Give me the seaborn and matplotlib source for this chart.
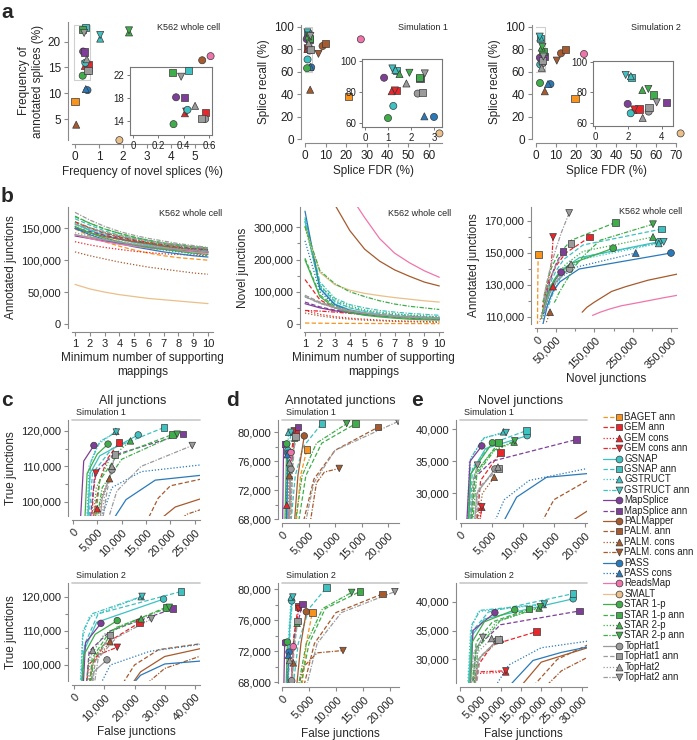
import numpy as np
import pandas as pd
import seaborn as sns
import matplotlib.pyplot as plt
from matplotlib.ticker import FuncFormatter, FixedLocator
from matplotlib.patches import Rectangle

sns.set_style('ticks')
plt.rcParams['font.family'] = ['Liberation Sans', 'DejaVu Sans']
plt.rcParams['font.size'] = 8

W, H = 697, 740

# ---- methods / styles ----
methods = ['BAGET ann', 'GEM ann', 'GEM cons', 'GEM cons ann', 'GSNAP', 'GSNAP ann',
           'GSTRUCT', 'GSTRUCT ann', 'MapSplice', 'MapSplice ann', 'PALMapper', 'PALM. ann',
           'PALM. cons', 'PALM. cons ann', 'PASS', 'PASS cons', 'ReadsMap', 'SMALT',
           'STAR 1-p', 'STAR 1-p ann', 'STAR 2-p', 'STAR 2-p ann', 'TopHat1', 'TopHat1 ann',
           'TopHat2', 'TopHat2 ann']
method_colors = ['#F7941D', '#E8262B', '#E8262B', '#E8262B', '#3EC1C1', '#3EC1C1',
                 '#3EC1C1', '#3EC1C1', '#7F3F98', '#7F3F98', '#A65A2E', '#A65A2E',
                 '#A65A2E', '#A65A2E', '#2A7AB9', '#2A7AB9', '#F074AC', '#EABF8A',
                 '#3FAE4A', '#3FAE4A', '#3FAE4A', '#3FAE4A', '#9B9B9B', '#9B9B9B',
                 '#9B9B9B', '#9B9B9B']
method_markers = ['s', 's', '^', 'v', 'o', 's', '^', 'v', 'o', 's', 'o', 's', '^', 'v',
                  'o', '^', 'o', 'o', 'o', 's', '^', 'v', 'o', 's', '^', 'v']
method_lines = ['--', '--', ':', '-.', '-', '--', ':', '-.', '-', '--', '-', '--', ':', '-.',
                '-', ':', '-', '-', '-', '--', ':', '-.', '-', '--', ':', '-.']

# ---- panel a: (x, y) per method ----
a1_pts = {'BAGET ann': (0.0, 8.4), 'GEM ann': (0.57, 15.5), 'GEM cons': (0.41, 15.3),
          'GEM cons ann': (0.42, 15.6), 'GSNAP': (0.43, 15.9), 'GSNAP ann': (0.44, 22.75),
          'GSTRUCT': (1.05, 20.6), 'GSTRUCT ann': (1.05, 21.3), 'MapSplice': (0.34, 18.1),
          'MapSplice ann': (0.41, 18.0), 'PALMapper': (5.3, 16.4), 'PALM. cons': (0.05, 3.9),
          'PASS': (0.52, 10.6), 'PASS cons': (0.45, 10.8), 'ReadsMap': (5.65, 17.2),
          'SMALT': (1.85, 0.9), 'STAR 1-p': (0.32, 13.4), 'STAR 1-p ann': (0.31, 22.4),
          'STAR 2-p': (2.25, 21.8), 'STAR 2-p ann': (2.25, 22.2), 'TopHat1': (0.57, 14.3),
          'TopHat1 ann': (0.54, 14.4), 'TopHat2': (0.49, 16.6), 'TopHat2 ann': (0.38, 21.7)}

a2_pts = {'BAGET ann': (21, 38), 'GEM ann': (1.38, 81.2), 'GEM cons': (1.16, 80.5),
          'GEM cons ann': (1.3, 81.0), 'GSNAP': (1.23, 71), 'GSNAP ann': (1.38, 93.7),
          'GSTRUCT': (1.32, 94.3), 'GSTRUCT ann': (1.19, 95.2), 'MapSplice': (0.83, 89.2),
          'MapSplice ann': (2.39, 88.7), 'PALMapper': (8.5, 83), 'PALM. ann': (10, 85),
          'PALM. cons': (2.5, 44), 'PALM. cons ann': (6.5, 76), 'PASS': (3.0, 63.9),
          'PASS cons': (2.58, 64.3), 'ReadsMap': (27, 89), 'SMALT': (65, 5),
          'STAR 1-p': (1.0, 63.2), 'STAR 1-p ann': (2.36, 89.4), 'STAR 2-p': (1.5, 91.6),
          'STAR 2-p ann': (1.93, 92.4), 'TopHat1': (2.29, 79), 'TopHat1 ann': (2.5, 79.7),
          'TopHat2': (1.8, 85.5), 'TopHat2 ann': (2.6, 92)}

a3_pts = {'BAGET ann': (19.5, 36.2), 'GEM ann': (2.64, 69.3), 'GEM cons': (2.3, 68.6),
          'GEM cons ann': (2.36, 69.0), 'GSNAP': (2.14, 66.5), 'GSNAP ann': (2.2, 90.0),
          'GSTRUCT': (2.15, 90.6), 'GSTRUCT ann': (1.84, 91.4), 'MapSplice': (1.96, 72.6),
          'MapSplice ann': (4.3, 73.6), 'PALMapper': (12.5, 76.5), 'PALM. ann': (14.7, 80),
          'PALM. cons': (4.4, 42.6), 'PALM. cons ann': (10.4, 70), 'PASS': (7.2, 49),
          'PASS cons': (6.0, 49), 'ReadsMap': (24, 75.9), 'SMALT': (72.3, 5),
          'STAR 1-p': (2.0, 50), 'STAR 1-p ann': (3.5, 78.4), 'STAR 2-p': (2.84, 81.6),
          'STAR 2-p ann': (3.2, 82.3), 'TopHat1': (3.22, 67.6), 'TopHat1 ann': (3.24, 70.2),
          'TopHat2': (2.86, 63.5), 'TopHat2 ann': (3.7, 73.6)}

# ---- panel b: junction counts (thousands) for min support 1..10 ----
support = [1, 2, 3, 4, 5, 6, 7, 8, 9, 10]
b_annotated = {
    'BAGET ann': [149, 138, 129, 122, 116, 111, 107, 104, 102, 100],
    'GEM ann': [160, 150, 142, 136, 131, 127, 124, 121, 118, 116],
    'GEM cons': [129, 124, 120, 117, 114, 112, 110, 109, 108, 107],
    'GEM cons ann': [160, 151, 143, 137, 132, 128, 125, 122, 119, 117],
    'GSNAP': [157, 147, 139, 133, 128, 124, 121, 118, 116, 114],
    'GSNAP ann': [165, 155, 146, 139, 134, 130, 126, 123, 121, 119],
    'GSTRUCT': [156, 146, 138, 132, 127, 123, 120, 117, 115, 113],
    'GSTRUCT ann': [157, 148, 140, 134, 129, 125, 122, 119, 117, 115],
    'MapSplice': [138, 134, 130, 127, 124, 121, 118, 116, 114, 112],
    'MapSplice ann': [151, 145, 139, 134, 130, 126, 123, 120, 118, 116],
    'PALMapper': [150, 143, 137, 133, 129, 126, 122, 119, 116, 113],
    'PALM. cons': [113, 107, 102, 97, 93, 89, 86, 83, 80, 78],
    'PASS': [150, 140, 132, 126, 121, 117, 113, 110, 107, 105],
    'PASS cons': [150, 141, 134, 128, 123, 119, 116, 113, 110, 108],
    'ReadsMap': [140, 134, 129, 125, 122, 119, 117, 115, 113, 111],
    'SMALT': [62, 55, 50, 46, 43, 40, 38, 36, 34, 32],
    'STAR 1-p': [153, 143, 135, 129, 124, 120, 117, 114, 111, 109],
    'STAR 1-p ann': [169, 158, 149, 142, 136, 131, 127, 124, 121, 119],
    'STAR 2-p': [160, 151, 143, 137, 132, 128, 124, 121, 119, 117],
    'STAR 2-p ann': [168, 158, 149, 142, 136, 131, 127, 124, 121, 119],
    'TopHat1': [140, 136, 132, 128, 125, 122, 119, 117, 115, 113],
    'TopHat1 ann': [156, 150, 144, 139, 134, 130, 127, 124, 121, 119],
    'TopHat2': [143, 138, 134, 130, 126, 123, 120, 118, 116, 114],
    'TopHat2 ann': [175, 163, 153, 145, 139, 134, 130, 126, 123, 120],
}
b_novel = {
    'BAGET ann': [3, 2.5, 2, 1.8, 1.6, 1.5, 1.4, 1.3, 1.2, 1.1],
    'GEM ann': [138, 75, 50, 38, 30, 25, 21, 18, 16, 14],
    'GEM cons': [42, 30, 23, 18, 15, 12, 10, 9, 8, 7],
    'GEM cons ann': [42, 40, 37, 33, 29, 26, 23, 21, 19, 17],
    'GSNAP': [318, 110, 62, 44, 35, 29, 25, 22, 20, 18],
    'GSNAP ann': [326, 120, 70, 50, 40, 33, 28, 25, 22, 20],
    'GSTRUCT': [318, 115, 68, 50, 40, 34, 30, 27, 24, 22],
    'GSTRUCT ann': [331, 130, 80, 60, 50, 42, 37, 33, 30, 27],
    'MapSplice': [63, 50, 41, 35, 30, 26, 23, 21, 19, 17],
    'MapSplice ann': [68, 53, 43, 36, 31, 27, 24, 22, 20, 18],
    'PALMapper': [900, 530, 370, 290, 232, 195, 168, 148, 130, 118],
    'PALM. cons': [34, 25, 19, 15, 12, 10, 8, 7, 6, 5],
    'PASS': [350, 110, 60, 42, 33, 27, 23, 20, 17, 15],
    'PASS cons': [258, 100, 58, 40, 31, 26, 22, 19, 17, 15],
    'ReadsMap': [1200, 700, 500, 400, 330, 265, 220, 190, 165, 145],
    'SMALT': [300, 160, 122, 105, 95, 88, 82, 77, 72, 68],
    'STAR 1-p': [199, 85, 50, 35, 27, 22, 18, 15, 13, 12],
    'STAR 1-p ann': [204, 90, 55, 40, 31, 26, 22, 19, 17, 15],
    'STAR 2-p': [303, 120, 75, 55, 44, 37, 32, 28, 25, 22],
    'STAR 2-p ann': [303, 165, 125, 100, 85, 72, 62, 55, 50, 45],
    'TopHat1': [85, 65, 50, 40, 33, 28, 24, 21, 19, 17],
    'TopHat1 ann': [89, 68, 53, 43, 35, 30, 26, 23, 21, 19],
    'TopHat2': [89, 67, 52, 42, 34, 29, 25, 22, 20, 18],
    'TopHat2 ann': [84, 64, 50, 40, 33, 28, 24, 21, 19, 17],
}

# ---- panels c-e: (false, true) junction curves, thousands; last point = most permissive ----
c_sim1 = {
    'GEM ann': ([4.0, 5.5, 7, 9.4], [94, 106, 112, 116.7]),
    'GEM cons': ([4.2, 5.0], [94, 98.0]),
    'GEM cons ann': ([3.8, 4.2, 4.7], [94, 103, 108.1]),
    'GSNAP': ([3.0, 3.5, 5.5, 13.4], [94, 108, 113, 118.9]),
    'GSNAP ann': ([3.2, 4, 8, 18.7], [94, 108, 115, 121]),
    'GSTRUCT': ([2.8, 3.3, 5, 8.8], [94, 110, 116, 119.9]),
    'GSTRUCT ann': ([3.0, 3.6, 5.5, 8.9], [94, 111, 117, 119.7]),
    'MapSplice': ([1.5, 2.2, 4.3], [94, 111.5, 115.9]),
    'MapSplice ann': ([3.5, 4.5, 8, 22.6], [94, 108, 113, 119.1]),
    'PALMapper': ([17, 21, 30], [94, 98.5, 102.5]),
    'PALM. ann': ([15, 17.5, 20, 30], [94, 101, 104.5, 107.5]),
    'PALM. cons': ([5, 6, 7.5], [94, 102, 106.5]),
    'PALM. cons ann': ([21, 23.5, 30], [94, 96.5, 99.5]),
    'PASS': ([7.8, 10.9, 16.9, 32], [94, 100.6, 106.1, 108.3]),
    'PASS cons': ([5.5, 8, 14, 32], [94, 104, 108.5, 111.3]),
    'STAR 1-p': ([2.4, 2.9, 5, 7.2], [94, 108, 113.5, 116.3]),
    'STAR 1-p ann': ([4.5, 5.5, 9, 20.4], [94, 106, 113, 119]),
    'STAR 2-p': ([4.0, 4.8, 7.5, 11.8], [94, 104, 112, 117.2]),
    'STAR 2-p ann': ([4.8, 6, 10, 21.4], [94, 104, 112, 119.1]),
    'TopHat1': ([5.5, 6, 8], [94, 101, 109]),
    'TopHat1 ann': ([6, 7, 8.6], [94, 103, 113.4]),
    'TopHat2': ([5.8, 6.5, 8], [94, 102, 110]),
    'TopHat2 ann': ([7, 9, 14, 24.5], [94, 103, 110, 115.9]),
}
c_sim2 = {
    'GEM ann': ([5, 6, 10, 21.6], [93, 100, 106, 112.4]),
    'GEM cons ann': ([4, 4.8, 8, 14.3], [93, 100, 103, 105.2]),
    'GSNAP': ([2.5, 3.2, 7.5, 29.6], [93, 104, 112.5, 119.3]),
    'GSNAP ann': ([2.8, 3.5, 8, 35.3], [93, 106, 115, 121.5]),
    'GSTRUCT': ([2.0, 2.8, 5, 22.2], [93, 108, 114, 120]),
    'GSTRUCT ann': ([2.2, 3, 6, 22.5], [93, 110, 115, 120.1]),
    'MapSplice': ([3, 3.8, 8.9], [93, 106.5, 112.2]),
    'MapSplice ann': ([4, 5, 12, 32.8], [93, 104, 110, 116.5]),
    'PALMapper': ([18, 22, 30, 48], [93, 98, 102.5, 106]),
    'PALM. ann': ([15, 20, 28, 48], [93, 100, 104.5, 107]),
    'PALM. cons': ([4.5, 6, 11.9], [93, 100, 106.8]),
    'PALM. cons ann': ([22, 30, 48], [93, 99, 104.5]),
    'PASS': ([18, 22, 30, 48], [93, 97, 100.3, 101.6]),
    'PASS cons': ([8, 12, 25, 48], [93, 100, 104, 106.8]),
    'STAR 1-p': ([2.5, 3.3, 7, 14.3], [93, 103, 109, 113]),
    'STAR 1-p ann': ([5, 6, 12, 30.4], [93, 102, 110, 116.9]),
    'STAR 2-p': ([4, 5, 10, 22.2], [93, 102, 109, 113.5]),
    'STAR 2-p ann': ([5.5, 6.5, 14, 31.5], [93, 102, 111, 116.9]),
    'TopHat1': ([5.5, 6.5, 10.9], [93, 98, 101.5]),
    'TopHat1 ann': ([6, 7, 11.9], [93, 101, 108.8]),
    'TopHat2': ([4.5, 5.2, 6.2], [93, 101, 104.3]),
    'TopHat2 ann': ([6.5, 8, 14, 25.6], [93, 102, 108, 113.5]),
}
d_sim1 = {
    'BAGET ann': ([2.5, 3.5, 4.7], [66, 74, 77.6]),
    'GEM ann': ([1.3, 1.8, 2.5], [66, 76, 80.2]),
    'GEM cons': ([0.6, 0.9], [66, 69.9]),
    'GEM cons ann': ([1.2, 1.6, 2.3], [66, 76, 80.2]),
    'GSNAP': ([0.9, 1.1], [66, 77.5]),
    'GSNAP ann': ([1.5, 2.5, 4, 7.5], [66, 74, 78, 81.2]),
    'GSTRUCT': ([0.8, 1.0, 1.25], [66, 77, 80]),
    'GSTRUCT ann': ([0.9, 1.2, 1.7], [66, 77, 80]),
    'MapSplice': ([0.1, 0.3], [66, 78.3]),
    'MapSplice ann': ([1.2, 1.8, 3], [66, 76, 80.7]),
    'PALMapper': ([2.2, 3.0, 4.2], [66, 74, 79.5]),
    'PALM. ann': ([3.5, 6, 10, 18.1], [66, 73.5, 77.5, 80.7]),
    'PALM. cons': ([1.0, 1.2, 1.4], [66, 71, 74]),
    'PALM. cons ann': ([5, 6.5, 8, 10.8], [66, 73, 74.5, 75]),
    'PASS': ([0.8, 1.1], [66, 77.1]),
    'PASS cons': ([0.8, 1.0], [66, 76.9]),
    'ReadsMap': ([1.3, 1.7], [66, 77.2]),
    'STAR 1-p': ([0.5, 0.9], [66, 78.4]),
    'STAR 1-p ann': ([2.8, 4.5, 7.5, 13.9], [66, 74, 78.5, 81.2]),
    'STAR 2-p': ([1.5, 2.0, 2.4], [66, 76, 79.2]),
    'STAR 2-p ann': ([2.2, 3.8, 6.5, 12.2], [66, 74, 78.5, 81.2]),
    'TopHat1': ([1.2, 1.5, 1.7], [66, 72, 74.9]),
    'TopHat1 ann': ([1.6, 2.0, 2.5], [66, 75, 79.4]),
    'TopHat2': ([1.0, 1.2, 1.4], [66, 72, 75.8]),
    'TopHat2 ann': ([4, 6, 10, 21.9], [66, 73, 77.5, 81.5]),
}
d_sim2 = {
    'BAGET ann': ([3.5, 4.5, 5.6], [66, 73, 77]),
    'GEM ann': ([1.6, 2.2, 3.0], [66, 74, 77.8]),
    'GEM cons ann': ([1.5, 2.1, 3.1], [66, 73, 77.5]),
    'GSNAP': ([1.0, 1.4, 1.8], [66, 75, 78.5]),
    'GSNAP ann': ([1.8, 3, 5, 8.2], [66, 73, 77.5, 80.2]),
    'GSTRUCT': ([1.0, 1.3, 1.7], [66, 75, 79]),
    'GSTRUCT ann': ([1.1, 1.5, 2.0], [66, 75, 79]),
    'MapSplice': ([0.3, 0.5], [66, 73.1]),
    'MapSplice ann': ([1.5, 2.3, 3.8], [66, 74, 78.1]),
    'PALMapper': ([2.5, 3.5, 4.5], [66, 73, 77.1]),
    'PALM. ann': ([3.5, 6, 10, 18.6], [66, 73, 77, 79.4]),
    'PALM. cons': ([1.5, 1.8, 2.1], [66, 69, 70.5]),
    'PALM. cons ann': ([2.5, 4, 6.5, 11.3], [66, 70, 71.8, 72.1]),
    'PASS': ([0.9, 1.3], [66, 71.9]),
    'PASS cons': ([0.9, 1.2], [66, 71.5]),
    'ReadsMap': ([1.6, 2.1], [66, 72.6]),
    'STAR 1-p': ([0.7, 1.0], [66, 73.2]),
    'STAR 1-p ann': ([3.0, 5, 8, 14.4], [66, 73, 77.5, 79.7]),
    'STAR 2-p': ([1.7, 2.2, 2.8], [66, 73, 75.6]),
    'STAR 2-p ann': ([2.6, 4.5, 7.5, 12.9], [66, 73, 77.5, 79.6]),
    'TopHat1': ([1.5, 1.8], [66, 68.2]),
    'TopHat1 ann': ([1.8, 2.2, 2.9], [66, 72, 75.9]),
    'TopHat2': ([1.0, 1.2, 1.4], [66, 69, 70.8]),
    'TopHat2 ann': ([4.0, 6.5, 11, 20.9], [66, 73, 77, 79.7]),
}
e_sim1 = {
    'GEM ann': ([2.5, 3.2, 6.4], [24, 32, 36.4]),
    'GEM cons': ([2.8, 3.4], [24, 27.8]),
    'GEM cons ann': ([2.9, 3.4], [24, 27.9]),
    'GSNAP': ([1.2, 1.6, 4, 10.7], [24, 33, 37, 39]),
    'GSNAP ann': ([1.4, 1.9, 5, 10.6], [24, 34, 37.8, 39.8]),
    'GSTRUCT': ([1.0, 1.4, 3.5, 6.9], [24, 35, 38.5, 39.6]),
    'GSTRUCT ann': ([1.1, 1.6, 3.8, 7.3], [24, 35.5, 38.7, 39.5]),
    'MapSplice': ([0.9, 1.5, 3.4], [24, 35, 37.4]),
    'MapSplice ann': ([1.5, 2.3, 5, 18.6], [24, 32.5, 35, 38.4]),
    'PALMapper': ([16, 24], [24.5, 29.5]),
    'PALM. ann': ([12.5, 15, 24], [24.5, 29, 34]),
    'PALM. cons': ([2.5, 3.5, 5.4], [24, 30, 32.5]),
    'PALM. cons ann': ([18.5, 24], [24.5, 28]),
    'PASS': ([6.3, 9, 13.8, 24], [24.5, 29.4, 32.5, 33.4]),
    'PASS cons': ([5, 7, 11, 24], [24.5, 29, 32, 34.6]),
    'STAR 1-p': ([1.2, 1.6, 5.1], [24, 33, 37.9]),
    'STAR 1-p ann': ([1.7, 2.3, 6.1], [24, 33, 37.9]),
    'STAR 2-p': ([1.5, 2.2, 5, 8.6], [24, 33, 36.5, 38.0]),
    'STAR 2-p ann': ([1.8, 2.6, 5.5, 8.7], [24, 33, 36.8, 38.2]),
    'TopHat1': ([2.1, 2.6, 5.5], [24, 30, 33.8]),
    'TopHat1 ann': ([2.3, 3, 6.2], [24, 31, 33.9]),
    'TopHat2': ([2.2, 2.8, 6.0], [24, 30.5, 34.1]),
    'TopHat2 ann': ([1.5, 2.0, 2.7], [24, 32, 34.4]),
}
e_sim2 = {
    'GEM ann': ([3.5, 4.5, 8, 18.9], [24, 29, 32.5, 34.8]),
    'GEM cons': ([3.0, 3.8, 11.3], [24, 27.5, 27.8]),
    'GEM cons ann': ([3.2, 4.2, 11.3], [24, 27.8, 28.0]),
    'GSNAP': ([2.0, 2.8, 6, 27.9], [24, 34, 37, 40.5]),
    'GSNAP ann': ([2.2, 3.2, 7, 27.9], [24, 35, 38.2, 41.4]),
    'GSTRUCT': ([1.8, 2.6, 4.5, 20.5], [24, 35, 38.3, 39.5]),
    'GSTRUCT ann': ([2.0, 2.9, 5, 20.8], [24, 36, 38.5, 39.6]),
    'MapSplice': ([2.5, 3.2, 8.6], [24, 35, 38.1]),
    'MapSplice ann': ([3.0, 4, 10, 29.5], [24, 32, 36, 38.4]),
    'PALMapper': ([14, 20, 36], [24.5, 29.5, 33]),
    'PALM. ann': ([17, 24, 36], [24.5, 30, 34]),
    'PALM. cons': ([3.0, 4.5, 10], [24, 30, 33.5]),
    'PALM. cons ann': ([20, 25, 36], [24.5, 28, 32]),
    'PASS': ([11, 18, 25, 36], [24.5, 29.8, 31.2, 32.8]),
    'PASS cons': ([8, 12, 20, 36], [24.5, 29, 32, 33.6]),
    'STAR 1-p': ([2.3, 3, 6, 13.5], [24, 33, 36.5, 38.6]),
    'STAR 1-p ann': ([2.8, 4, 8, 17], [24, 33, 36.5, 38.7]),
    'STAR 2-p': ([2.8, 4, 9, 19.5], [24, 32, 36.5, 38.9]),
    'STAR 2-p ann': ([3.2, 4.5, 10, 19.8], [24, 32, 36.8, 39.1]),
    'TopHat1': ([3.5, 4.5, 9.0], [24, 30, 33.2]),
    'TopHat1 ann': ([3.8, 5, 9.5], [24, 30.5, 33.4]),
    'TopHat2': ([3.0, 4, 7.8], [24, 31, 33.6]),
    'TopHat2 ann': ([2.5, 3.3, 5.6], [24, 31, 33.8]),
}

palette = dict(zip(methods, method_colors))
marker_map = dict(zip(methods, method_markers))
dash_codes = {'-': '', '--': (3.5, 1.8), ':': (1, 1.5), '-.': (3.5, 1.2, 1, 1.2)}
dash_map = {m: dash_codes[s] for m, s in zip(methods, method_lines)}

fig = plt.figure(figsize=(W / 100, H / 100), dpi=100)
SP = '#8a8a8a'


def make_ax(rect, xcal, ycal, off=4):
    l, t, r, b = rect
    ax = fig.add_axes([(l + off) / W, 1 - (b - off) / H, (r - l - off) / W, (b - off - t) / H])

    def lim(cal, p_a, p_b):
        p0, v0, p1, v1 = cal
        k = (v1 - v0) / (p1 - p0)
        return v0 + (p_a - p0) * k, v0 + (p_b - p0) * k
    ax.set_xlim(*lim(xcal, l + off, r))
    ax.set_ylim(*lim(ycal, b - off, t))
    for s in ['top', 'right']:
        ax.spines[s].set_visible(False)
    for s in ['left', 'bottom']:
        ax.spines[s].set_color(SP)
        ax.spines[s].set_linewidth(0.8)
        ax.spines[s].set_position(('outward', off * 0.72))
    ax.tick_params(which='both', color=SP, width=0.8, labelsize=8, labelcolor='#222', pad=2)
    ax.tick_params(which='major', length=3)
    ax.tick_params(which='minor', length=2)
    ax.set_facecolor('none')
    return ax


def make_inset(rect, xcal, ycal):
    l, t, r, b = rect
    ax = fig.add_axes([l / W, 1 - b / H, (r - l) / W, (b - t) / H])
    p0, v0, p1, v1 = xcal
    k = (v1 - v0) / (p1 - p0)
    ax.set_xlim(v0 + (l - p0) * k, v0 + (r - p0) * k)
    p0, v0, p1, v1 = ycal
    k = (v1 - v0) / (p1 - p0)
    ax.set_ylim(v0 + (b - p0) * k, v0 + (t - p0) * k)
    for s in ax.spines.values():
        s.set_color('#777')
        s.set_linewidth(0.8)
    ax.tick_params(which='both', color='#777', width=0.7, labelsize=7, labelcolor='#222', pad=1.5)
    ax.tick_params(which='major', length=2.5)
    ax.tick_params(which='minor', length=1.5)
    ax.set_facecolor('white')
    return ax


def pts_df(d):
    return pd.DataFrame([(m, x, y) for m, (x, y) in d.items()], columns=['method', 'x', 'y'])


def curves_df(d, scale=1000):
    rows = []
    for m, (xs, ys) in d.items():
        for i, (x, y) in enumerate(zip(xs, ys)):
            rows.append((m, i, x * scale, y * scale))
    return pd.DataFrame(rows, columns=['method', 'step', 'x', 'y'])


def scatter(ax, df, clip=True, s=24):
    sns.scatterplot(data=df, x='x', y='y', hue='method', style='method', palette=palette,
                    markers=marker_map, s=s, edgecolor='#3a3a3a', linewidth=0.5,
                    legend=False, ax=ax, zorder=3, clip_on=clip)


def lines(ax, df):
    sns.lineplot(data=df, x='x', y='y', hue='method', style='method', palette=palette,
                 dashes=dash_map, sort=False, estimator=None, legend=False, ax=ax, lw=0.9)


thou = FuncFormatter(lambda v, p: f'{v:,.0f}')


def rot(ax):
    plt.setp(ax.get_xticklabels(), rotation=45, ha='right', rotation_mode='anchor')


def ftext(x, y, s, **kw):
    fig.text(x / W, 1 - y / H, s, **kw)


# ================= panel a =================
a_panels = [
    (a1_pts, (68, 22, 213, 144), (75, 0, 195, 5), (119, 5, 41.7, 20), range(0, 6), range(5, 21, 5),
     'Frequency of novel splices (%)', 'Frequency of\nannotated splices (%)', (-0.05, 12.6, 0.67, 10.7),
     (130, 67, 212, 135), (133, 0, 209, 0.6), (75, 22, 120.7, 14), [0, 0.2, 0.4, 0.6], [14, 18, 22]),
    (a2_pts, (301, 25, 442, 143), (304, 0, 429, 60), (140, 0, 27, 100), range(0, 61, 10), range(0, 101, 20),
     'Splice FDR (%)', 'Splice recall (%)', (-0.3, 59.6, 3.7, 40.7),
     (362, 59, 442, 127), (365, 0, 434, 3), (61, 100, 123, 60), [0, 1, 2, 3], [60, 80, 100]),
    (a3_pts, (532, 25, 676, 143), (533, 0, 676, 70), (140, 0, 27, 100), range(0, 71, 10), range(0, 101, 20),
     'Splice FDR (%)', 'Splice recall (%)', (-0.3, 59.6, 4.9, 40.7),
     (593, 61, 673, 126), (595, 0, 661.7, 4), (61.7, 100, 123.3, 60), [0, 2, 4], [60, 80, 100]),
]
for (pts, rect, xc, yc, xt, yt, xl, yl, box, irect, ixc, iyc, ixt, iyt) in a_panels:
    ax = make_ax(rect, xc, yc)
    df = pts_df(pts)
    scatter(ax, df, clip=False, s=26)
    ax.add_patch(Rectangle((box[0], box[1]), box[2], box[3], fill=False, ec='#cfcfcf', lw=0.8, zorder=2))
    ax.set_xticks(list(xt))
    ax.set_yticks(list(yt))
    ax.tick_params(labelsize=8.5)
    ax.set_xlabel(xl, fontsize=8.5, labelpad=2)
    ax.set_ylabel(yl, fontsize=8.5, labelpad=3)
    ia = make_inset(irect, ixc, iyc)
    scatter(ia, df, clip=True, s=26)
    ia.set_xticks(ixt)
    ia.set_yticks(iyt)
    ia.set_xticklabels([f'{v:g}' for v in ixt])
    ia.set_xlabel('')
    ia.set_ylabel('')

ftext(220, 27, 'K562 whole cell', ha='right', va='center', fontsize=6.5)
ftext(448, 27, 'Simulation 1', ha='right', va='center', fontsize=6.5)
ftext(681, 27, 'Simulation 2', ha='right', va='center', fontsize=6.5)

# ================= panel b =================
b1_df = pd.DataFrame([(m, k, v * 1000) for m, vals in b_annotated.items() for k, v in zip(support, vals)],
                     columns=['method', 'x', 'y'])
b2_df = pd.DataFrame([(m, k, v * 1000) for m, vals in b_novel.items() for k, v in zip(support, vals)],
                     columns=['method', 'x', 'y'])
b3_df = pd.DataFrame([(m, n * 1000, a * 1000) for m in b_annotated
                      for n, a in zip(b_novel[m], b_annotated[m])], columns=['method', 'x', 'y'])

ax = make_ax((68, 207, 213, 332), (75, 1, 208, 10), (324, 0, 228.3, 150000))
lines(ax, b1_df)
ax.set_xticks(support)
ax.set_yticks([0, 50000, 100000, 150000])
ax.yaxis.set_major_formatter(thou)
ax.set_xlabel('Minimum number of supporting\nmappings', fontsize=8.5, labelpad=2)
ax.set_ylabel('Annotated junctions', fontsize=8.5, labelpad=3)

ax = make_ax((300, 207, 443, 332), (305, 1, 439.3, 10), (324, 0, 227.3, 300000))
lines(ax, b2_df)
ax.set_xticks(support)
ax.set_yticks([0, 100000, 200000, 300000])
ax.yaxis.set_minor_locator(FixedLocator([50000, 150000, 250000]))
ax.yaxis.set_major_formatter(thou)
ax.set_xlabel('Minimum number of supporting\nmappings', fontsize=8.5, labelpad=2)
ax.set_ylabel('Novel junctions', fontsize=8.5, labelpad=3)

ax = make_ax((531, 207, 677, 328), (537, 0, 671, 350000), (317, 110000, 221, 170000))
lines(ax, b3_df)
scatter(ax, b3_df.groupby('method', sort=False).head(1))
ax.set_xticks([0, 50000, 150000, 250000, 350000])
ax.xaxis.set_minor_locator(FixedLocator([100000, 200000, 300000]))
ax.set_yticks([110000, 130000, 150000, 170000])
ax.yaxis.set_minor_locator(FixedLocator([120000, 140000, 160000]))
ax.xaxis.set_major_formatter(thou)
ax.yaxis.set_major_formatter(thou)
rot(ax)
ax.set_xlabel('Novel junctions', fontsize=8.5, labelpad=2)
ax.set_ylabel('Annotated junctions', fontsize=8.5, labelpad=3)

ftext(222, 213, 'K562 whole cell', ha='right', va='center', fontsize=6.5)
ftext(451, 213, 'K562 whole cell', ha='right', va='center', fontsize=6.5)
ftext(682, 211, 'K562 whole cell', ha='right', va='center', fontsize=6.5)

# ================= panels c-e =================
cde = [
    (c_sim1, (68, 420, 200, 520), (73, 0, 194.7, 25000), (431, 120000, 501.7, 100000),
     range(0, 25001, 5000), [100000, 110000, 120000], [95000, 105000, 115000], 'Simulation 1', True, False),
    (c_sim2, (68, 583, 200, 685), (74, 0, 195, 40000), (596.7, 120000, 665, 100000),
     range(0, 40001, 10000), [100000, 110000, 120000], [95000, 105000, 115000], 'Simulation 2', True, True),
    (d_sim1, (278, 420, 399, 523), (281.7, 0, 388, 20000), (432.3, 80000, 519, 68000),
     range(0, 20001, 5000), [68000, 72000, 76000, 80000], [70000, 74000, 78000], 'Simulation 1', False, False),
    (d_sim2, (278, 583, 399, 687), (281.7, 0, 390, 20000), (589.3, 80000, 682.3, 68000),
     range(0, 20001, 5000), [68000, 72000, 76000, 80000], [70000, 74000, 78000], 'Simulation 2', False, True),
    (e_sim1, (456, 420, 587, 523), (460.7, 0, 585, 20000), (429.3, 40000, 493.3, 30000),
     range(0, 20001, 5000), [30000, 35000, 40000], [], 'Simulation 1', False, False),
    (e_sim2, (456, 583, 587, 687), (460, 0, 581.7, 30000), (601.7, 40000, 659.3, 30000),
     range(0, 30001, 5000), [30000, 35000, 40000], [], 'Simulation 2', False, True),
]
for (d, rect, xc, yc, xt, yt, ymin, title, ylab, xlab) in cde:
    ax = make_ax(rect, xc, yc)
    df = curves_df(d)
    lines(ax, df)
    scatter(ax, df.groupby('method', sort=False).tail(1), s=22)
    ax.set_xticks(list(xt))
    ax.set_yticks(yt)
    if ymin:
        ax.yaxis.set_minor_locator(FixedLocator(ymin))
    ax.xaxis.set_major_formatter(thou)
    ax.yaxis.set_major_formatter(thou)
    rot(ax)
    top = ax.get_ylim()[1]
    ax.axhline(top, color='#c8c8c8', lw=1.2, clip_on=False, zorder=0)
    ax.text(0.03, 1.03, title, transform=ax.transAxes, fontsize=6.5, ha='left', va='bottom')
    ax.set_ylabel('True junctions' if ylab else '', fontsize=8.5, labelpad=3)
    ax.set_xlabel('False junctions' if xlab else '', fontsize=8.5, labelpad=2)

ftext(133, 401, 'All junctions', ha='center', va='center', fontsize=9)
ftext(340, 401, 'Annotated junctions', ha='center', va='center', fontsize=9)
ftext(521, 401, 'Novel junctions', ha='center', va='center', fontsize=9)

# panel letters
for lab, x, y in [('a', 1, 13), ('b', 1, 196), ('c', 1, 400), ('d', 226, 400), ('e', 411, 400)]:
    ftext(x, y, lab, fontsize=15, fontweight='bold', ha='left', va='center')

# ================= legend =================
lg = fig.add_axes([600 / W, 1 - 690 / H, 97 / W, 280 / H])
lg.set_xlim(600, 697)
lg.set_ylim(690, 410)
lg.axis('off')
for i, m in enumerate(methods):
    yy = 417 + i * 10.4
    st = dash_codes[method_lines[i]]
    ln, = lg.plot([603, 618], [yy, yy], color=palette[m], lw=0.9)
    if st:
        ln.set_dashes(st)
    lg.scatter([619], [yy], marker=marker_map[m], s=24, color=palette[m], edgecolor='#3a3a3a',
               linewidth=0.5, zorder=3, clip_on=False)
    lg.text(624.5, yy, m, fontsize=6.9, va='center', ha='left', color='#222')

fig.savefig('out.png', dpi=100)
